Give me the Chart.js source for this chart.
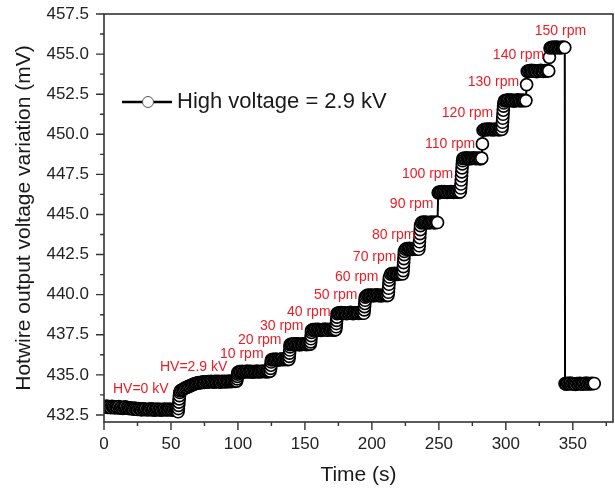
<!DOCTYPE html>
<html>
<head>
<meta charset="utf-8">
<script src="https://cdn.jsdelivr.net/npm/chart.js@4.4.1/dist/chart.umd.min.js"></script>
<style>
  html, body { margin: 0; padding: 0; background: #fff; }
  canvas { display: block; }
</style>
</head>
<body>
<canvas id="hotwireChart" width="615" height="491" style="width:615px;height:491px"></canvas>
<script>
// Time (s) / voltage (mV) pairs, one array per step of the run
const hvOff = [[0,433.02],[1,432.98],[2,433.05],[3,432.97],[4,433.01],[5,432.95],[6,433.03],[7,432.99],[8,432.94],[9,433.0],[10,432.96],[11,433.02],[12,432.93],[13,432.98],[14,432.91],[15,432.97],[16,433.0],[17,432.92],[18,432.95],[19,432.89],[20,432.94],[21,432.9],[22,432.86],[23,432.92],[24,432.88],[25,432.84],[26,432.9],[27,432.86],[28,432.82],[29,432.88],[30,432.84],[31,432.87],[32,432.81],[33,432.85],[34,432.83],[35,432.88],[36,432.82],[37,432.86],[38,432.8],[39,432.84],[40,432.87],[41,432.82],[42,432.85],[43,432.8],[44,432.84],[45,432.86],[46,432.81],[47,432.85],[48,432.82],[49,432.87],[50,432.83],[51,432.8],[52,432.84],[53,432.81],[54,432.83],[55,432.78]];
const hvOn = [[55.3,432.7],[55.5,432.9],[55.7,433.1],[55.9,433.3],[56.1,433.5],[56.3,433.7],[56.6,433.9],[57,434.0],[58,434.05],[59,434.1],[60,434.15],[61,434.2],[62,434.22],[63,434.28],[64,434.3],[65,434.35],[66,434.38],[67,434.42],[68,434.45],[69,434.47],[70,434.5],[71,434.52],[72,434.5],[73,434.54],[74,434.56],[75,434.53],[76,434.57],[77,434.55],[78,434.58],[79,434.56],[80,434.6],[81,434.57],[82,434.55],[83,434.59],[84,434.56],[85,434.6],[86,434.58],[87,434.55],[88,434.6],[89,434.57],[90,434.59],[91,434.56],[92,434.6],[93,434.58],[94,434.61],[95,434.58],[96,434.6],[97,434.62],[98,434.59],[99,434.61]];
const stepC = [[99.4,434.75],[99.6,434.9],[99.8,435.05],[100,435.15],[101,435.2],[102,435.18],[103,435.22],[104,435.17],[105,435.21],[106,435.19],[107,435.23],[108,435.18],[109,435.2],[110,435.22],[111,435.17],[112,435.21],[113,435.19],[114,435.23],[115,435.2],[116,435.18],[117,435.22],[118,435.2],[119,435.24],[120,435.21],[121,435.19],[122,435.22],[123,435.2],[124,435.23]];
const stepD = [[124.4,435.4],[124.6,435.6],[124.8,435.8],[125,435.93],[126,435.97],[127,435.94],[128,435.98],[129,435.95],[130,435.92],[131,435.97],[132,435.95],[133,435.99],[134,435.94],[135,435.96],[136,435.98],[137,435.95],[138,435.97]];
const stepE = [[138.3,436.15],[138.5,436.35],[138.7,436.55],[138.9,436.75],[139,436.88],[140,436.92],[141,436.9],[142,436.94],[143,436.89],[144,436.93],[145,436.91],[146,436.87],[147,436.92],[148,436.9],[149,436.94],[150,436.91],[151,436.88],[152,436.93],[153,436.9],[154,436.92]];
const stepF = [[154.3,437.05],[154.5,437.25],[154.7,437.45],[154.9,437.65],[155,437.78],[156,437.82],[157,437.8],[158,437.84],[159,437.79],[160,437.83],[161,437.81],[162,437.77],[163,437.82],[164,437.8],[165,437.85],[166,437.81],[167,437.78],[168,437.83],[169,437.8],[170,437.84],[171,437.81],[172,437.79],[173,437.82]];
const stepG = [[173.3,438.0],[173.5,438.2],[173.7,438.4],[173.9,438.6],[174,438.82],[175,438.86],[176,438.84],[177,438.88],[178,438.83],[179,438.87],[180,438.85],[181,438.81],[182,438.86],[183,438.84],[184,438.89],[185,438.85],[186,438.82],[187,438.87],[188,438.84],[189,438.86],[190,438.83],[191,438.88],[192,438.85],[193,438.87],[194,438.84]];
const stepH = [[194.3,439.05],[194.5,439.25],[194.7,439.45],[194.9,439.65],[195.1,439.85],[196,439.93],[197,439.97],[198,439.94],[199,439.98],[200,439.95],[201,439.92],[202,439.97],[203,439.95],[204,439.99],[205,439.94],[206,439.96],[207,439.93],[208,439.97],[209,439.95],[210,439.98],[211,439.94],[212,439.96]];
const stepI = [[212.3,440.15],[212.5,440.4],[212.7,440.65],[212.9,440.9],[213.1,441.1],[214,441.28],[215,441.32],[216,441.29],[217,441.33],[218,441.3],[219,441.27],[220,441.31],[221,441.29],[222,441.33],[223,441.3]];
const stepJ = [[223.3,441.5],[223.5,441.75],[223.7,442.0],[223.9,442.25],[224.1,442.5],[224.3,442.7],[225,442.83],[226,442.87],[227,442.84],[228,442.88],[229,442.85],[230,442.82],[231,442.86],[232,442.84],[233,442.88],[234,442.85],[235,442.83]];
const stepK = [[235.3,443.05],[235.5,443.3],[235.7,443.55],[235.9,443.8],[236.1,444.05],[236.3,444.3],[237,444.48],[238,444.52],[239,444.49],[240,444.53],[241,444.5],[242,444.47],[243,444.51],[244,444.49],[245,444.53],[246,444.5],[247,444.48],[248,444.52],[249,444.5]];
const stepL = [[249.5,446.35],[250,446.4],[251,446.38],[252,446.42],[253,446.39],[254,446.43],[255,446.4],[256,446.37],[257,446.41],[258,446.39],[259,446.43],[260,446.4],[261,446.38],[262,446.42],[263,446.4],[264,446.43],[265,446.39],[266,446.41]];
const stepM = [[266.3,446.65],[266.5,446.9],[266.7,447.15],[266.9,447.4],[267.1,447.65],[267.3,447.9],[267.5,448.15],[267.7,448.35],[268,448.48],[269,448.52],[270,448.49],[271,448.53],[272,448.5],[273,448.47],[274,448.51],[275,448.49],[276,448.53],[277,448.5],[278,448.48],[279,448.52],[280,448.5],[281,448.47],[282,448.51]];
const stepN = [[282.5,449.4],[283,450.25],[284,450.3],[285,450.28],[286,450.32],[287,450.29],[288,450.33],[289,450.3],[290,450.27],[291,450.31],[292,450.29],[293,450.33],[294,450.3],[295,450.28],[296,450.32],[297,450.3]];
const stepO = [[297.3,450.5],[297.5,450.75],[297.7,451.0],[297.9,451.25],[298.1,451.5],[298.3,451.75],[298.5,451.95],[299,452.08],[300,452.12],[301,452.1],[302,452.14],[303,452.09],[304,452.13],[305,452.11],[306,452.07],[307,452.12],[308,452.1],[309,452.14],[310,452.11],[311,452.08],[312,452.13],[313,452.1],[314,452.12],[315,452.1]];
const stepP = [[315.5,453.1],[316,453.92],[317,453.96],[318,453.94],[319,453.98],[320,453.93],[321,453.97],[322,453.95],[323,453.91],[324,453.96],[325,453.94],[326,453.98],[327,453.95],[328,453.92],[329,453.97],[330,453.94],[331,453.96],[332,453.95]];
const stepQ = [[332.5,454.8],[333,455.38],[334,455.42],[335,455.4],[336,455.44],[337,455.39],[338,455.43],[339,455.41],[340,455.38],[341,455.42],[342,455.4],[343,455.43],[344,455.41]];
const fanOff = [[344.2,434.45],[345,434.42],[346,434.47],[347,434.44],[348,434.48],[349,434.43],[350,434.46],[351,434.44],[352,434.41],[353,434.46],[354,434.43],[355,434.47],[356,434.45],[357,434.42],[358,434.46],[359,434.44],[360,434.48],[361,434.43],[362,434.46],[363,434.44],[364,434.47],[365,434.45],[366,434.46]];

// red step annotations (text, time, voltage)
const noteText = ["HV=0 kV", "HV=2.9 kV", "10 rpm", "20 rpm", "30 rpm", "40 rpm", "50 rpm", "60 rpm", "70 rpm", "80 rpm", "90 rpm", "100 rpm", "110 rpm", "120 rpm", "130 rpm", "140 rpm", "150 rpm"];
const noteTime = [6.7, 41.8, 86.6, 100, 116.4, 136.6, 156.7, 172.4, 185.8, 200, 213.4, 222.4, 239.6, 252.2, 271.6, 290.3, 321.6];
const noteVolt = [434.12, 435.46, 436.30, 437.14, 438.02, 438.92, 439.98, 441.10, 442.35, 443.72, 445.65, 447.53, 449.40, 451.33, 453.26, 454.94, 456.44];

// axis ticks
const xTicks = [0, 50, 100, 150, 200, 250, 300, 350];
const xMinor = [25, 75, 125, 175, 225, 275, 325, 375];
const yTicks = [432.5, 435.0, 437.5, 440.0, 442.5, 445.0, 447.5, 450.0, 452.5, 455.0, 457.5];
const yMinor = [433.75, 436.25, 438.75, 441.25, 443.75, 446.25, 448.75, 451.25, 453.75, 456.25];

const seriesLabel = "High voltage = 2.9 kV";
const allSteps = [hvOff, hvOn, stepC, stepD, stepE, stepF, stepG, stepH, stepI, stepJ, stepK, stepL, stepM, stepN, stepO, stepP, stepQ, fanOff];
const points = [].concat(...allSteps).map(p => ({ x: p[0], y: p[1] }));

const FONT = "'Liberation Sans', Arial, Helvetica, sans-serif";

// frame, outward ticks, red notes and legend
const extras = {
    id: "extras",
    afterDatasetsDraw(chart) {
        const { ctx, chartArea: a, scales: { x, y } } = chart;
        ctx.save();

        ctx.fillStyle = "#ec1c24";
        ctx.font = "14px " + FONT;
        ctx.textAlign = "left";
        ctx.textBaseline = "middle";
        noteText.forEach((t, i) => {
            ctx.fillText(t, x.getPixelForValue(noteTime[i]), y.getPixelForValue(noteVolt[i]));
        });

        ctx.strokeStyle = "#333";
        ctx.lineWidth = 1.6;
        ctx.strokeRect(a.left, a.top, a.right - a.left, a.bottom - a.top);

        ctx.lineWidth = 1.4;
        ctx.beginPath();
        xTicks.forEach(v => { const px = x.getPixelForValue(v); ctx.moveTo(px, a.bottom); ctx.lineTo(px, a.bottom + 8); });
        xMinor.forEach(v => { const px = x.getPixelForValue(v); ctx.moveTo(px, a.bottom); ctx.lineTo(px, a.bottom + 4); });
        yTicks.forEach(v => { const py = y.getPixelForValue(v); ctx.moveTo(a.left, py); ctx.lineTo(a.left - 8, py); });
        yMinor.forEach(v => { const py = y.getPixelForValue(v); ctx.moveTo(a.left, py); ctx.lineTo(a.left - 4, py); });
        ctx.stroke();

        // legend
        ctx.strokeStyle = "#000";
        ctx.lineWidth = 2.5;
        ctx.beginPath();
        ctx.moveTo(122, 102);
        ctx.lineTo(172, 102);
        ctx.stroke();
        ctx.beginPath();
        ctx.arc(148, 102, 5.5, 0, Math.PI * 2);
        ctx.fillStyle = "#fff";
        ctx.fill();
        ctx.lineWidth = 1;
        ctx.strokeStyle = "#555";
        ctx.stroke();
        ctx.fillStyle = "#1a1a1a";
        ctx.font = "22px " + FONT;
        ctx.fillText(seriesLabel, 177, 102);

        ctx.restore();
    }
};

new Chart(document.getElementById("hotwireChart"), {
    type: "line",
    data: {
        datasets: [{
            label: seriesLabel,
            data: points,
            borderColor: "#000",
            borderWidth: 2,
            pointRadius: 6,
            pointBorderWidth: 1.7,
            pointBackgroundColor: "#fff",
            pointBorderColor: "#000",
            tension: 0,
        }]
    },
    options: {
        responsive: false,
        animation: false,
        devicePixelRatio: 1,
        layout: { autoPadding: false, padding: { top: 14, right: 2, left: 0, bottom: 0 } },
        plugins: {
            legend: { display: false },
            tooltip: { enabled: false },
        },
        scales: {
            x: {
                type: "linear",
                min: 0,
                max: 380,
                afterBuildTicks: s => { s.ticks = xTicks.map(v => ({ value: v })); },
                afterFit: s => { s.height = 69; s.paddingLeft = 0; s.paddingRight = 0; },
                grid: { display: false },
                border: { display: false },
                ticks: { color: "#222", font: { family: FONT, size: 17 }, padding: 4, maxRotation: 0 },
                title: { display: true, text: "Time (s)", color: "#1a1a1a", font: { family: FONT, size: 21 }, padding: { top: 0, bottom: 3 } },
            },
            y: {
                type: "linear",
                min: 432.06,
                max: 457.5,
                afterBuildTicks: s => { s.ticks = yTicks.map(v => ({ value: v })); },
                afterFit: s => { s.width = 104; s.paddingTop = 0; s.paddingBottom = 0; },
                grid: { display: false },
                border: { display: false },
                ticks: { color: "#222", font: { family: FONT, size: 17 }, padding: 7, callback: v => v.toFixed(1) },
                title: { display: true, text: "Hotwire output voltage variation (mV)", color: "#1a1a1a", font: { family: FONT, size: 21 }, padding: { top: 12, bottom: 0 } },
            },
        },
    },
    plugins: [extras],
});
</script>
</body>
</html>
